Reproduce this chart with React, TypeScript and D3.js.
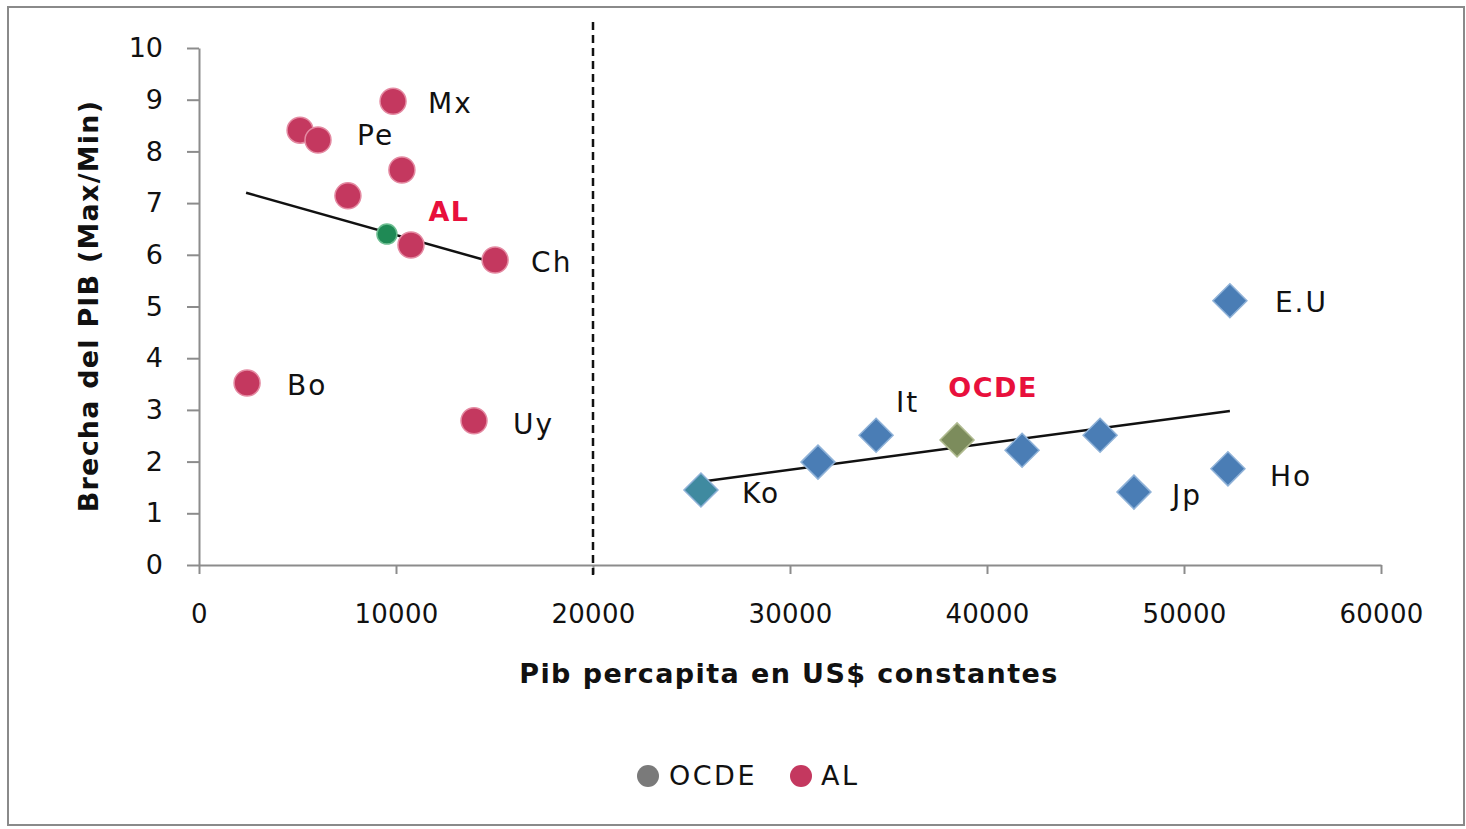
import React, { useEffect, useRef } from 'react';
import * as d3 from 'd3';

// América Latina (círculos)
const alNames = ['Mx', 'Pe', '', '', '', '', 'Ch', 'Bo', 'Uy'];
const alX = [9850, 5130, 6040, 10300, 7560, 10760, 15030, 2440, 13960];
const alY = [8.97, 8.41, 8.22, 7.64, 7.14, 6.19, 5.9, 3.52, 2.79];

// OCDE (rombos)
const ocdeNames = ['Ko', '', 'It', '', '', 'Jp', 'Ho', 'E.U'];
const ocdeX = [25480, 31420, 34370, 41780, 45740, 47460, 52230, 52330];
const ocdeY = [1.45, 1.99, 2.51, 2.22, 2.51, 1.41, 1.86, 5.11];

// promedios de cada grupo
const avgAL = [9540, 6.4];
const avgOCDE = [38480, 2.42];

// líneas de tendencia (extremos)
const trendAL = [[2390, 7.2], [14870, 5.86]];
const trendOCDE = [[25280, 1.6], [52330, 2.98]];

const xTicks = [0, 10000, 20000, 30000, 40000, 50000, 60000];
const yTicks = [0, 1, 2, 3, 4, 5, 6, 7, 8, 9, 10];
const divider = 20000;

const FONT = 'DejaVu Sans, sans-serif';

const App = () => {
  const ref = useRef<SVGSVGElement>(null);

  useEffect(() => {
    const svg = d3.select(ref.current);
    svg.selectAll('*').remove();

    const x = d3.scaleLinear().domain([0, 60000]).range([199, 1381]);
    const y = d3.scaleLinear().domain([0, 10]).range([565, 48]);

    // outer frame
    svg
      .append('rect')
      .attr('x', 8)
      .attr('y', 7)
      .attr('width', 1456)
      .attr('height', 818)
      .attr('fill', '#fff')
      .attr('stroke', '#8a8a8a')
      .attr('stroke-width', 2);

    // axes
    const gx = svg
      .append('g')
      .attr('transform', 'translate(0,' + y(0) + ')')
      .call(d3.axisBottom(x).tickValues(xTicks).tickSize(9).tickPadding(31).tickSizeOuter(0).tickFormat(d3.format('d')));
    gx.select('.domain').attr('stroke', '#8c8c8c').attr('stroke-width', 2);
    gx.selectAll('.tick line').attr('stroke', '#8c8c8c').attr('stroke-width', 2);
    gx.selectAll('text')
      .attr('font-family', FONT)
      .attr('font-size', 26)
      .attr('letter-spacing', 0.3)
      .attr('fill', '#111');

    const gy = svg
      .append('g')
      .attr('transform', 'translate(' + x(0) + ',0)')
      .call(d3.axisLeft(y).tickValues(yTicks).tickSize(12).tickPadding(24).tickSizeOuter(0));
    gy.select('.domain').attr('stroke', '#8c8c8c').attr('stroke-width', 2);
    gy.selectAll('.tick line').attr('stroke', '#8c8c8c').attr('stroke-width', 2);
    gy.selectAll('text')
      .attr('font-family', FONT)
      .attr('font-size', 27)
      .attr('fill', '#111');

    // axis titles
    svg
      .append('text')
      .attr('x', 789)
      .attr('y', 683)
      .attr('text-anchor', 'middle')
      .attr('font-family', FONT)
      .attr('font-weight', 'bold')
      .attr('font-size', 27)
      .attr('letter-spacing', 1.4)
      .attr('fill', '#111')
      .text('Pib percapita en US$ constantes');

    svg
      .append('text')
      .attr('transform', 'translate(98,306) rotate(-90)')
      .attr('text-anchor', 'middle')
      .attr('font-family', FONT)
      .attr('font-weight', 'bold')
      .attr('font-size', 27)
      .attr('letter-spacing', 1.2)
      .attr('fill', '#111')
      .text('Brecha del PIB (Max/Min)');

    // vertical dashed divider
    svg
      .append('line')
      .attr('x1', x(divider))
      .attr('x2', x(divider))
      .attr('y1', 22)
      .attr('y2', y(0) + 10)
      .attr('stroke', '#111')
      .attr('stroke-width', 2.5)
      .attr('stroke-dasharray', '8,5');

    // trend lines
    const line = d3
      .line<number[]>()
      .x((d) => x(d[0]))
      .y((d) => y(d[1]));
    [trendAL, trendOCDE].forEach((t) => {
      svg.append('path').attr('d', line(t)).attr('fill', 'none').attr('stroke', '#111').attr('stroke-width', 2.5);
    });

    const diamond = (cx: number, cy: number, r: number) =>
      `M${cx},${cy - r}L${cx + r},${cy}L${cx},${cy + r}L${cx - r},${cy}Z`;

    // OCDE points
    const ocde = ocdeX.map((v, i) => ({ x: v, y: ocdeY[i], name: ocdeNames[i] }));
    svg
      .append('g')
      .selectAll('path')
      .data(ocde)
      .enter()
      .append('path')
      .attr('d', (d) => diamond(x(d.x), y(d.y), 17))
      .attr('fill', (d) => (d.name === 'Ko' ? '#3f8aa0' : '#4a7db5'))
      .attr('stroke', '#8fb2d8')
      .attr('stroke-width', 1.5);
    svg
      .append('path')
      .attr('d', diamond(x(avgOCDE[0]), y(avgOCDE[1]), 17))
      .attr('fill', '#7c8c5c')
      .attr('stroke', '#b0bb90')
      .attr('stroke-width', 1.5);

    // AL points
    const al = alX.map((v, i) => ({ x: v, y: alY[i], name: alNames[i] }));
    svg
      .append('g')
      .selectAll('circle')
      .data(al)
      .enter()
      .append('circle')
      .attr('cx', (d) => x(d.x))
      .attr('cy', (d) => y(d.y))
      .attr('r', 13)
      .attr('fill', '#c4385f')
      .attr('stroke', '#e48aa2')
      .attr('stroke-width', 1.5);
    svg
      .append('circle')
      .attr('cx', x(avgAL[0]))
      .attr('cy', y(avgAL[1]))
      .attr('r', 10)
      .attr('fill', '#1f8a55')
      .attr('stroke', '#6cbd90')
      .attr('stroke-width', 1.5);

    // country labels
    const labelOffsets: Record<string, [number, number]> = {
      Mx: [35, 2],
      Pe: [57, 5],
      Ch: [36, 2],
      Bo: [40, 2],
      Uy: [39, 3],
      Ko: [41, 3],
      It: [20, -33],
      Jp: [38, 3],
      Ho: [42, 7],
      'E.U': [45, 1],
    };
    const labels = [...al, ...ocde].filter((d) => d.name !== '');
    svg
      .append('g')
      .selectAll('text')
      .data(labels)
      .enter()
      .append('text')
      .attr('x', (d) => x(d.x) + labelOffsets[d.name][0])
      .attr('y', (d) => y(d.y) + labelOffsets[d.name][1])
      .attr('dy', '0.35em')
      .attr('font-family', FONT)
      .attr('font-size', 28)
      .attr('letter-spacing', 2)
      .attr('fill', '#111')
      .text((d) => d.name);

    // group labels
    [
      { t: 'AL', x: x(avgAL[0]) + 62, y: y(avgAL[1]) - 23 },
      { t: 'OCDE', x: x(avgOCDE[0]) + 36, y: y(avgOCDE[1]) - 52 },
    ].forEach((g) => {
      svg
        .append('text')
        .attr('x', g.x)
        .attr('y', g.y)
        .attr('dy', '0.35em')
        .attr('text-anchor', 'middle')
        .attr('font-family', FONT)
        .attr('font-weight', 'bold')
        .attr('font-size', 27)
        .attr('letter-spacing', 1.5)
        .attr('fill', '#e8103c')
        .text(g.t);
    });

    // legend
    const lg = svg.append('g').attr('transform', 'translate(0,776)');
    lg.append('circle').attr('cx', 648).attr('cy', 0).attr('r', 11).attr('fill', '#7a7a7a');
    lg.append('text')
      .attr('x', 669)
      .attr('y', 0)
      .attr('dy', '0.35em')
      .attr('font-family', FONT)
      .attr('font-size', 27)
      .attr('letter-spacing', 2.5)
      .attr('fill', '#111')
      .text('OCDE');
    lg.append('circle').attr('cx', 801).attr('cy', 0).attr('r', 11).attr('fill', '#c4385f');
    lg.append('text')
      .attr('x', 821)
      .attr('y', 0)
      .attr('dy', '0.35em')
      .attr('font-family', FONT)
      .attr('font-size', 27)
      .attr('letter-spacing', 2.5)
      .attr('fill', '#111')
      .text('AL');
  }, []);

  return (
    <svg
      ref={ref}
      width={1466}
      height={829}
      style={{ position: 'absolute', left: 0, top: 0, background: '#fff' }}
    />
  );
};

export default App;
